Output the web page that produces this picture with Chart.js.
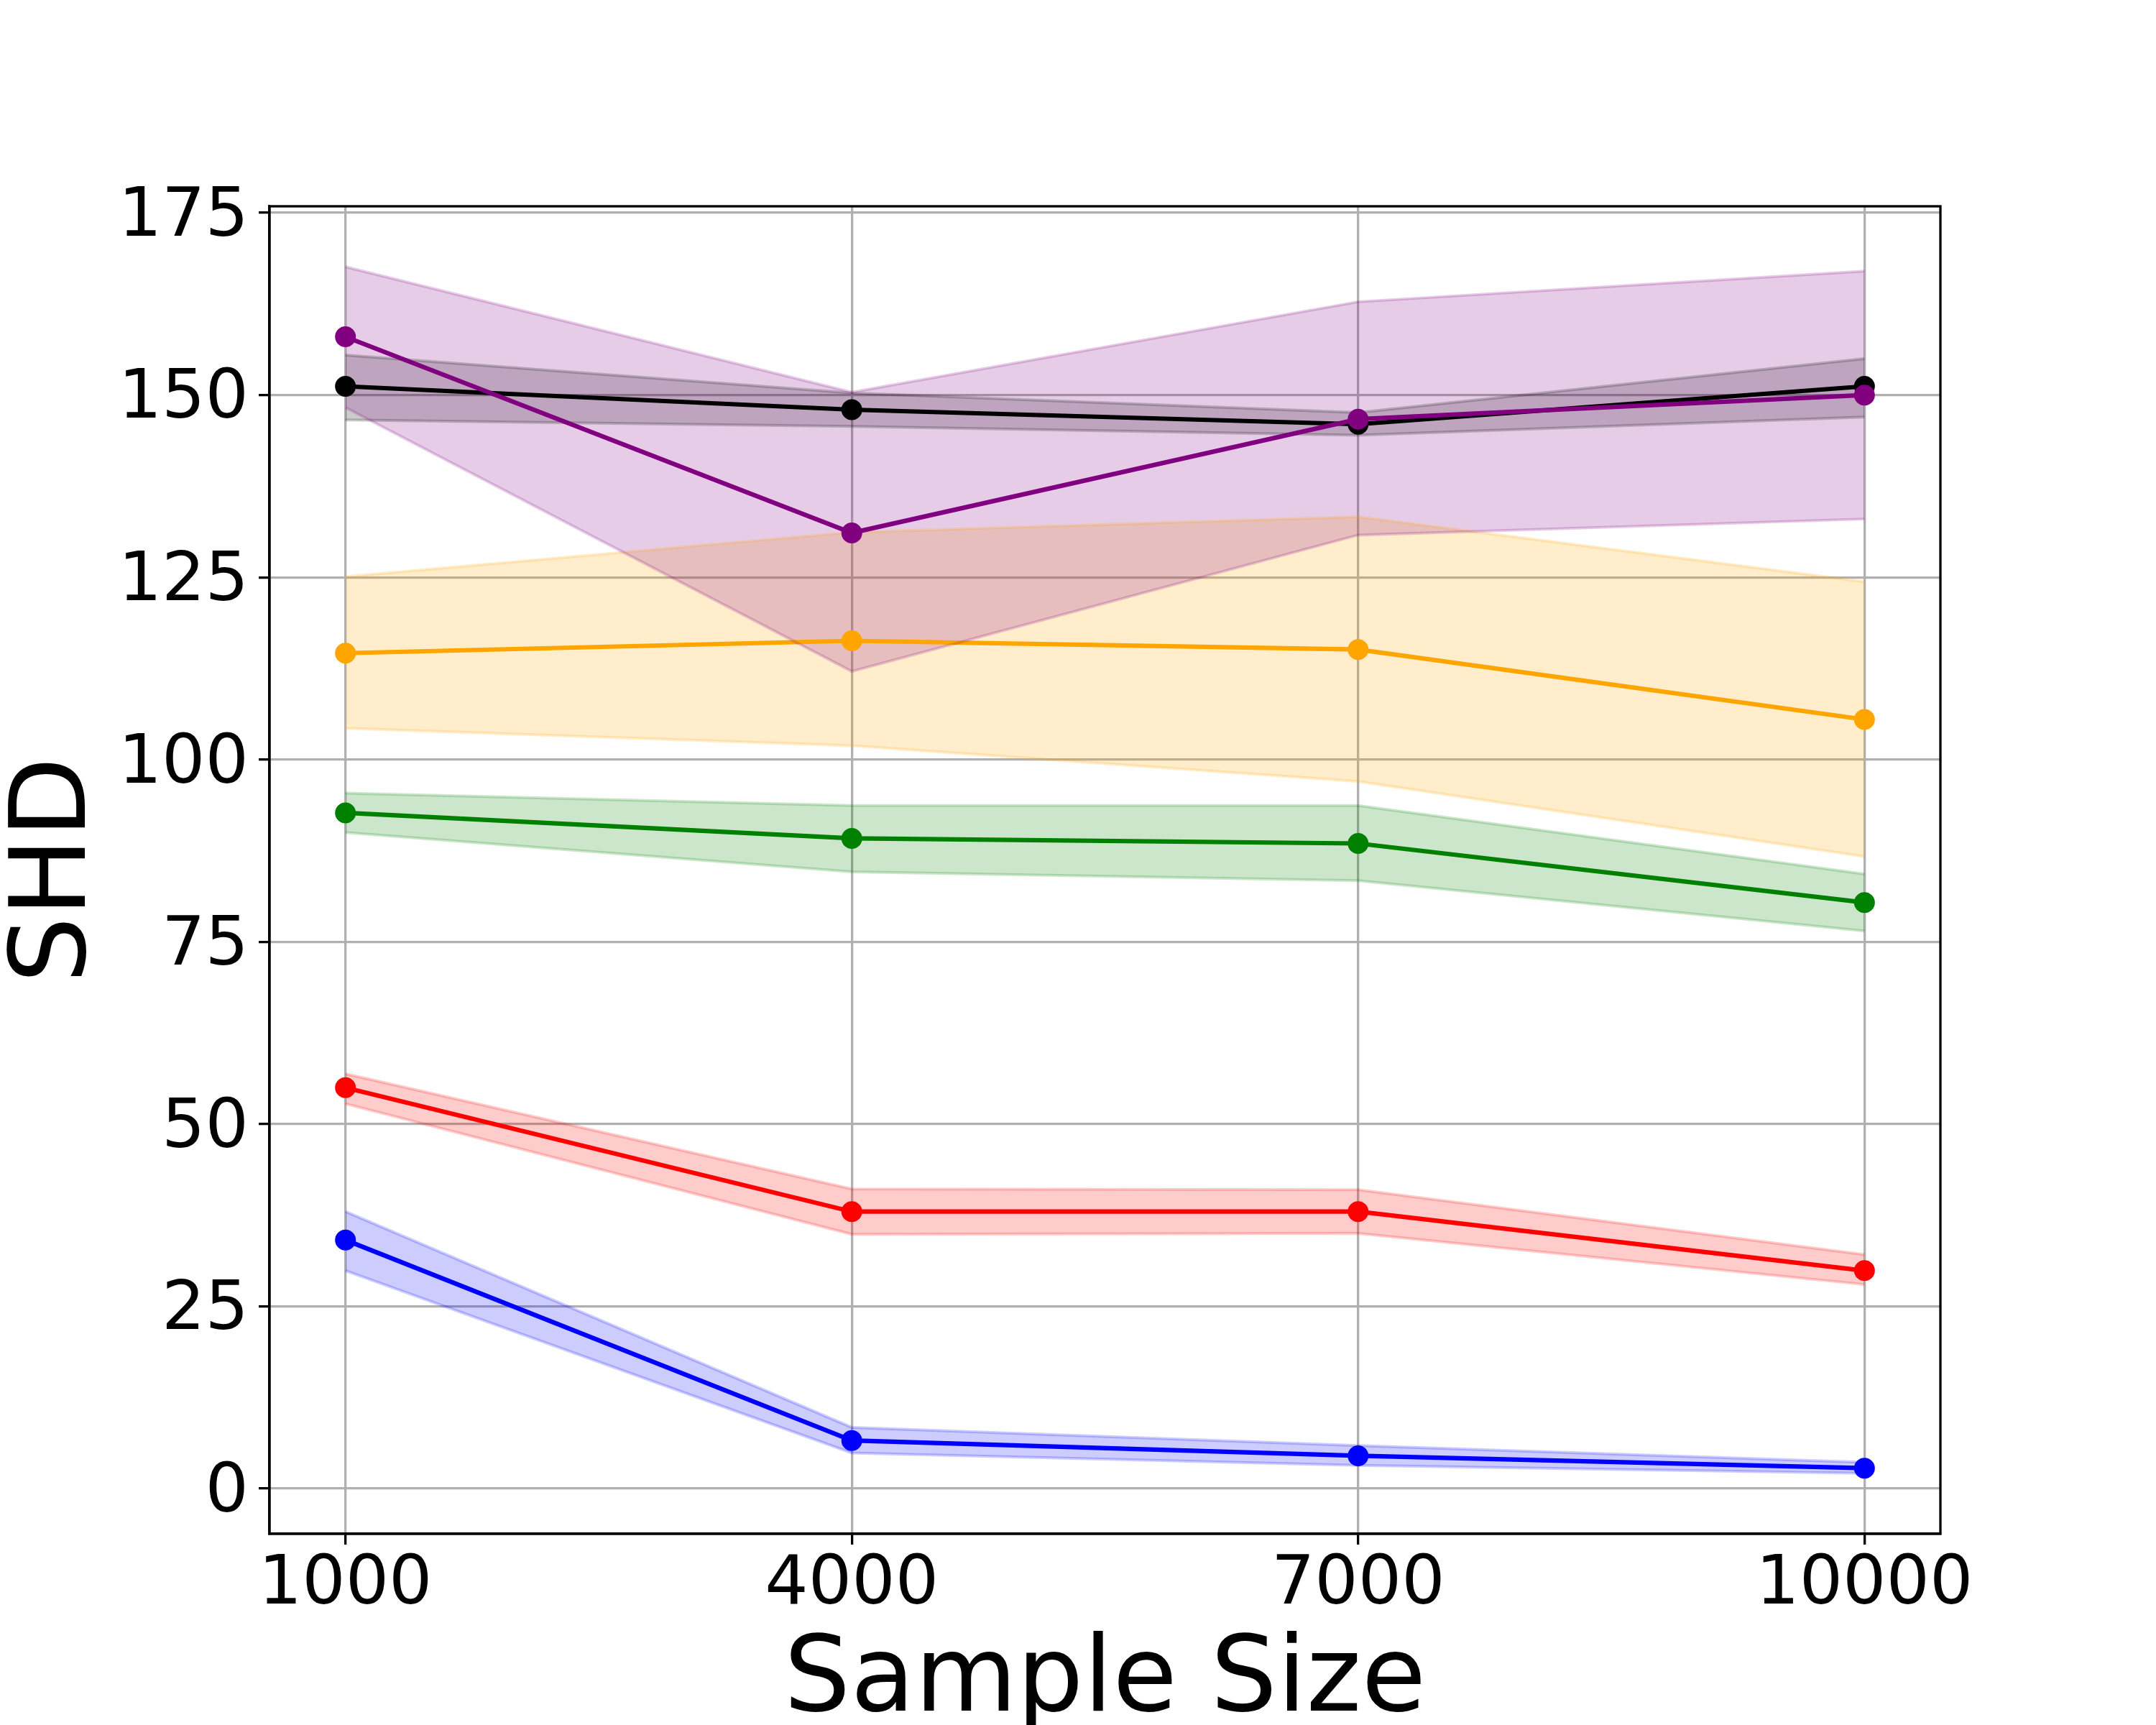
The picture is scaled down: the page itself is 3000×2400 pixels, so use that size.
<!doctype html>
<html>
<head>
<meta charset="utf-8">
<title>SHD vs Sample Size</title>
<script src="https://cdn.jsdelivr.net/npm/chart.js"></script>
<style>
  html, body { margin: 0; padding: 0; background: #fff; }
  #wrap { width: 3000px; height: 2400px; }
</style>
</head>
<body>
<div id="wrap"><canvas id="shdChart" width="3000" height="2400"></canvas></div>
<script>
// x positions (sample sizes) and tick labels
const sampleSizes = [1000, 4000, 7000, 10000];
const yTicks = [0, 25, 50, 75, 100, 125, 150, 175];

// per method: mean, lower and upper band
const blueMean = [34.1, 6.6, 4.5, 2.8];
const blueLow  = [29.9, 4.9, 3.2, 2.1];
const blueHigh = [38.0, 8.4, 5.9, 3.6];

const redMean = [55.0, 38.0, 38.0, 29.9];
const redLow  = [52.8, 34.9, 35.0, 28.0];
const redHigh = [56.9, 41.1, 41.0, 32.1];

const greenMean = [92.7, 89.2, 88.5, 80.4];
const greenLow  = [90.0, 84.6, 83.4, 76.5];
const greenHigh = [95.4, 93.7, 93.7, 84.3];

const orangeMean = [114.6, 116.3, 115.1, 105.5];
const orangeLow  = [104.3, 101.9, 97.0, 86.7];
const orangeHigh = [125.1, 131.2, 133.3, 124.4];

const blackMean = [151.2, 148.0, 146.0, 151.2];
const blackLow  = [146.6, 145.7, 144.5, 147.0];
const blackHigh = [155.5, 150.3, 147.6, 155.0];

const purpleMean = [158.0, 131.1, 146.7, 150.0];
const purpleLow  = [148.3, 112.1, 130.8, 133.0];
const purpleHigh = [167.6, 150.4, 162.8, 167.0];

// drawing order: first one is drawn at the bottom
const methods = [
  { rgb: '0,0,255',   mean: blueMean,   low: blueLow,   high: blueHigh },
  { rgb: '255,0,0',   mean: redMean,    low: redLow,    high: redHigh },
  { rgb: '0,128,0',   mean: greenMean,  low: greenLow,  high: greenHigh },
  { rgb: '255,165,0', mean: orangeMean, low: orangeLow, high: orangeHigh },
  { rgb: '0,0,0',     mean: blackMean,  low: blackLow,  high: blackHigh },
  { rgb: '128,0,128', mean: purpleMean, low: purpleLow, high: purpleHigh }
];

function toPoints(values) {
  return sampleSizes.map((x, i) => ({ x: x, y: values[i] }));
}

const datasets = [];
let drawIdx = 0;
const total = methods.length * 3;
methods.forEach(m => {
  const band = 'rgba(' + m.rgb + ',0.2)';
  const solid = 'rgb(' + m.rgb + ')';
  const highIndex = datasets.length;
  datasets.push({
    data: toPoints(m.high),
    borderColor: band, borderWidth: 4, pointRadius: 0,
    fill: false, order: total - (drawIdx++)
  });
  datasets.push({
    data: toPoints(m.low),
    borderColor: band, borderWidth: 4, pointRadius: 0,
    backgroundColor: band, fill: highIndex, order: total - (drawIdx++)
  });
  datasets.push({
    data: toPoints(m.mean),
    borderColor: solid, borderWidth: 6.2,
    pointRadius: 12.5, pointBorderWidth: 4,
    pointBackgroundColor: solid, pointBorderColor: solid,
    fill: false, order: total - (drawIdx++)
  });
});

// top and right spines, like a matplotlib frame
const frame = {
  id: 'frame',
  afterDraw(chart) {
    const { ctx, chartArea: a } = chart;
    ctx.save();
    ctx.strokeStyle = '#000';
    ctx.lineWidth = 3.3;
    ctx.strokeRect(a.left, a.top, a.right - a.left, a.bottom - a.top);
    ctx.restore();
  }
};

const gridOpts = {
  color: '#b0b0b0', lineWidth: 3.3,
  drawTicks: true, tickLength: 15, tickColor: '#000', tickWidth: 3.3
};

new Chart(document.getElementById('shdChart'), {
  type: 'line',
  data: { datasets: datasets },
  plugins: [frame],
  options: {
    responsive: false,
    animation: false,
    devicePixelRatio: 1,
    layout: { padding: { top: 287, right: 300, left: 0, bottom: 0 } },
    plugins: {
      legend: { display: false },
      tooltip: { enabled: false },
      // all bands first, then the lines on top
      filler: { drawTime: 'beforeDatasetsDraw' }
    },
    elements: { line: { tension: 0 } },
    scales: {
      x: {
        type: 'linear', min: 550, max: 10450,
        afterBuildTicks: s => { s.ticks = sampleSizes.map(v => ({ value: v })); },
        afterFit: s => { s.height = 266; },
        grid: gridOpts,
        border: { display: true, color: '#000', width: 3.3 },
        ticks: {
          color: '#000', padding: 10, maxRotation: 0,
          font: { family: 'DejaVu Sans', size: 95, lineHeight: 1 },
          callback: v => String(v)
        },
        title: {
          display: true, text: 'Sample Size', color: '#000', padding: 0,
          font: { family: 'DejaVu Sans', size: 146, lineHeight: 0.79 }
        }
      },
      y: {
        type: 'linear', min: -6.2, max: 175.9,
        afterBuildTicks: s => { s.ticks = yTicks.map(v => ({ value: v })); },
        afterFit: s => { s.width = 375; },
        grid: gridOpts,
        border: { display: true, color: '#000', width: 3.3 },
        ticks: {
          color: '#000', padding: 14, labelOffset: 7,
          font: { family: 'DejaVu Sans', size: 95, lineHeight: 1 },
          callback: v => String(v)
        },
        title: {
          display: true, text: 'SHD', color: '#000', padding: 0,
          font: { family: 'DejaVu Sans', size: 146, lineHeight: 1.1 }
        }
      }
    }
  }
});
</script>
</body>
</html>
